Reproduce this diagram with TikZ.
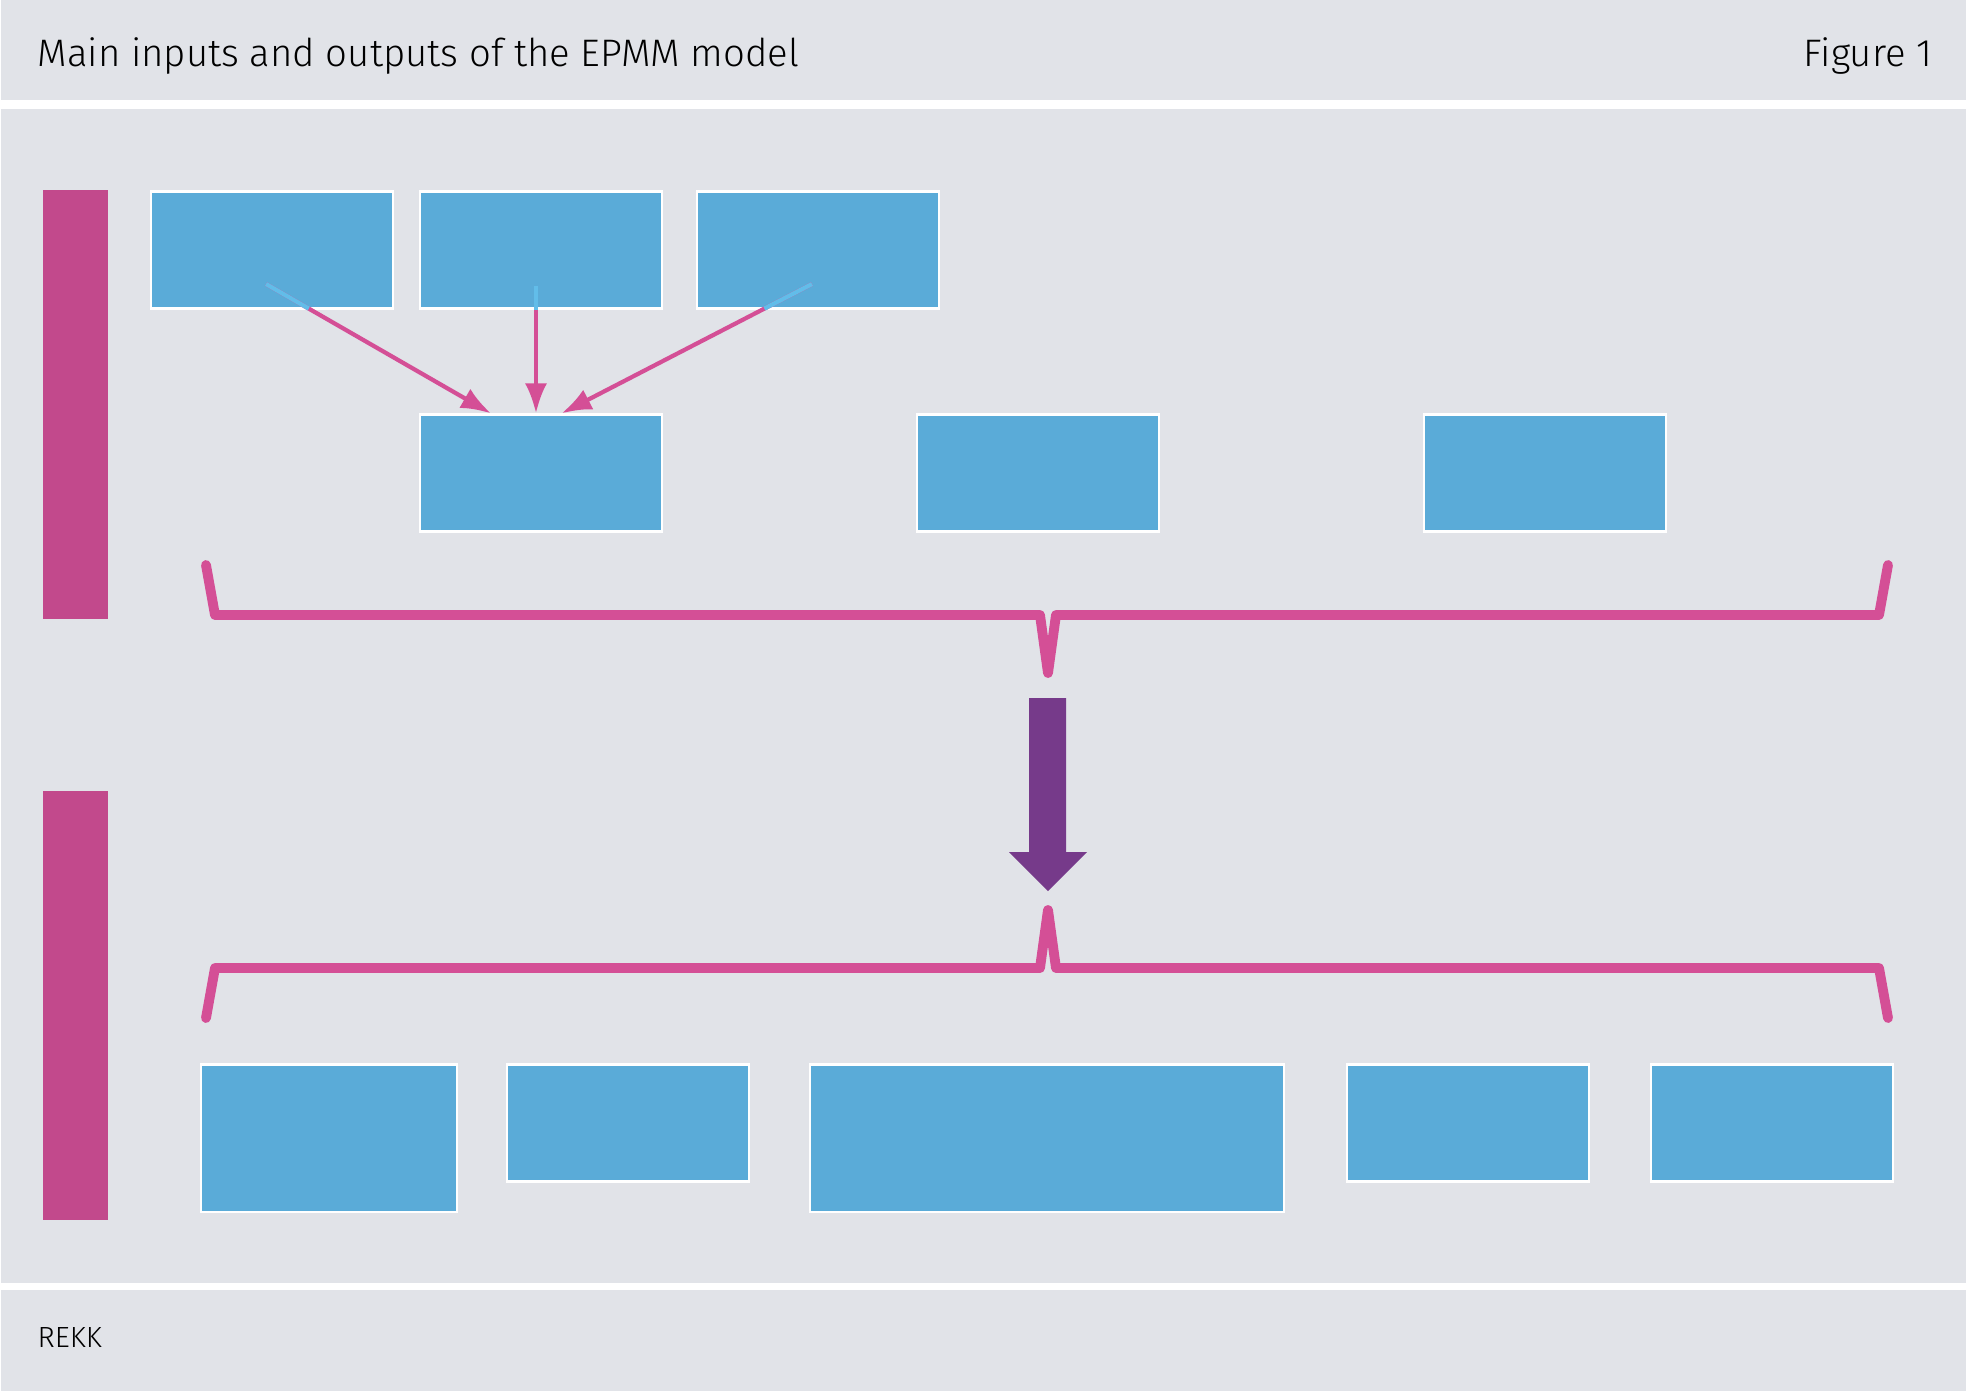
\documentclass[tikz,border=0pt]{standalone}
\usepackage{fontspec}
\setmainfont{Fira Sans}[UprightFont=* Light]
\usetikzlibrary{arrows.meta,calc}

\definecolor{panelgray}{HTML}{E1E3E8}
\definecolor{boxblue}{HTML}{5AABD8}
\definecolor{stubblue}{HTML}{62BDE9}
\definecolor{barmagenta}{HTML}{C2498C}
\definecolor{bracepink}{HTML}{D44F96}
\definecolor{flowpurple}{HTML}{763A8A}

\tikzset{
  inbox/.style={draw=white, line width=0.6pt, fill=boxblue, inner sep=0pt,
    minimum width=2.41cm, minimum height=1.17cm},
  sidebar/.style={fill=barmagenta},
  brace/.style={draw=bracepink, line width=2.8pt, line cap=round, line join=round},
  feed/.style={draw=bracepink, line width=1.2pt, -{Latex[length=0.3cm,width=0.22cm]}},
  feedstub/.style={draw=stubblue, line width=1.2pt},
  caption/.style={inner sep=0pt, text=black},
}

\begin{document}
\begin{tikzpicture}[x=0.01cm,y=-0.01cm]
\fill[white] (0,0) rectangle (1968,1393);
\useasboundingbox (0,0) rectangle (1968,1393);

% bands
\fill[panelgray] (1,0) rectangle (1966,100);
\fill[panelgray] (1,109) rectangle (1966,1283);
\fill[panelgray] (1,1290) rectangle (1966,1391);

\node[caption, anchor=west, font=\fontsize{10.9}{13}\selectfont] (title) at (37,56) {Main inputs and outputs of the EPMM model};
\node[caption, anchor=east, font=\fontsize{10.9}{13}\selectfont] (fignum) at (1933,56) {Figure 1};
\node[caption, anchor=west, font=\fontsize{8.3}{10}\selectfont] (source) at (37,1337) {REKK};

% side bars
\fill[sidebar] (43,190) rectangle (108,619);
\fill[sidebar] (43,791) rectangle (108,1220);

% inputs
\node[inbox] (in1) at (272,250) {};
\node[inbox] (in2) at (541,250) {};
\node[inbox] (in3) at (818,250) {};
\node[inbox] (mid1) at (541,473) {};
\node[inbox] (mid2) at (1038,473) {};
\node[inbox] (mid3) at (1545,473) {};

% outputs
\node[inbox, minimum width=2.56cm, minimum height=1.47cm] (out1) at (329,1138) {};
\node[inbox] (out2) at (628,1123) {};
\node[inbox, minimum width=4.73cm, minimum height=1.47cm] (out3) at (1047,1138) {};
\node[inbox] (out4) at (1468,1123) {};
\node[inbox] (out5) at (1772,1123) {};

% feeds into mid1
\coordinate (src1) at (266,284);
\coordinate (src2) at (536,286);
\coordinate (src3) at (812,284);
\draw[feed] (src1) -- (mid1.130);
\draw[feed] (src2) -- (mid1.north -| src2);
\draw[feed] (src3) -- (mid1.71);
\draw[feedstub] (src1) -- ($(src1)!0.19!(mid1.130)$);
\draw[feedstub] (src2) -- (in2.south -| src2);
\draw[feedstub] (src3) -- ($(src3)!0.19!(mid1.71)$);

% braces
\draw[brace] (206,565) -- (215,615) -- (1040,615) -- (1048,673) -- (1056,615) -- (1879,615) -- (1888,565);
\draw[brace] (206,1018) -- (215,968) -- (1040,968) -- (1048,910) -- (1056,968) -- (1879,968) -- (1888,1018);

% model arrow
\fill[flowpurple] (1029,698) -- (1066,698) -- (1066,852) -- (1087,852) -- (1048,891)
  -- (1009,852) -- (1029,852) -- cycle;
\end{tikzpicture}
\end{document}
